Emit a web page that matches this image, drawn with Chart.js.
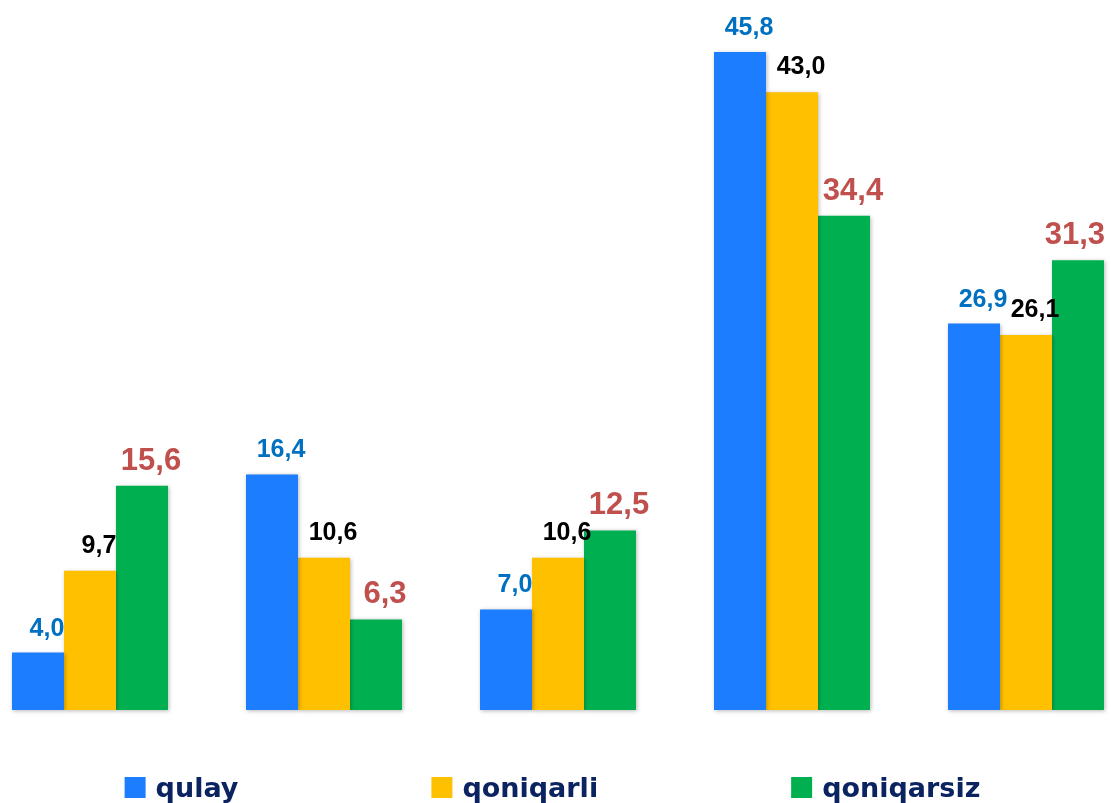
<!DOCTYPE html>
<html>
<head>
<meta charset="utf-8">
<script src="https://cdn.jsdelivr.net/npm/chart.js@4.4.1/dist/chart.umd.min.js"></script>
<style>
  html, body { margin: 0; padding: 0; background: #ffffff; }
  #wrap { position: relative; width: 1111px; height: 803px; }
</style>
</head>
<body>
<div id="wrap"><canvas id="c" width="1111" height="803"></canvas></div>
<script>
const categories = ['1', '2', '3', '4', '5'];
const seriesNames = ['qulay', 'qoniqarli', 'qoniqarsiz'];
const qulay = [4.0, 16.4, 7.0, 45.8, 26.9];
const qoniqarli = [9.7, 10.6, 10.6, 43.0, 26.1];
const qoniqarsiz = [15.6, 6.3, 12.5, 34.4, 31.3];

const barColors = ['#1C7DFF', '#FFC000', '#00B050'];
const labelColors = ['#0070C0', '#000000', '#C0504D'];
const labelFonts = ['bold 25px "Liberation Sans", Arial, sans-serif',
                    'bold 25px "Liberation Sans", Arial, sans-serif',
                    'bold 31px "Liberation Sans", Arial, sans-serif'];
const labelGaps = [17, 18, 16];

const fmt = v => v.toFixed(1).replace('.', ',');

const shadowPlugin = {
  id: 'barShadow',
  beforeDatasetsDraw(chart) {
    const ctx = chart.ctx;
    ctx.save();
    ctx.shadowColor = 'rgba(0,0,0,0.28)';
    ctx.shadowBlur = 4;
    ctx.shadowOffsetX = 1;
    ctx.shadowOffsetY = 1;
  },
  afterDatasetsDraw(chart) {
    chart.ctx.restore();
  }
};

const valueLabels = {
  id: 'valueLabels',
  afterDatasetsDraw(chart) {
    const ctx = chart.ctx;
    ctx.save();
    ctx.textAlign = 'center';
    ctx.textBaseline = 'alphabetic';
    chart.data.datasets.forEach((ds, di) => {
      const meta = chart.getDatasetMeta(di);
      ctx.font = labelFonts[di];
      ctx.fillStyle = labelColors[di];
      meta.data.forEach((bar, i) => {
        const txt = fmt(ds.data[i]);
        const w = ctx.measureText(txt).width;
        let cx = bar.x + 9;
        if (cx + w / 2 > chart.width - 6) cx = chart.width - 6 - w / 2;
        ctx.fillText(txt, cx, bar.y - labelGaps[di]);
      });
    });
    ctx.restore();
  }
};

const customLegend = {
  id: 'customLegend',
  afterDraw(chart) {
    const ctx = chart.ctx;
    ctx.save();
    ctx.font = 'bold 27px "DejaVu Sans", sans-serif';
    const box = 21, gapText = 10, itemGap = 193;
    const items = chart.data.datasets.map(ds => ({
      text: ds.label, color: ds.backgroundColor,
      w: box + gapText + ctx.measureText(ds.label).width
    }));
    const total = items.reduce((s, it) => s + it.w, 0) + itemGap * (items.length - 1);
    let x = (chart.width - total) / 2 - 3;
    const boxTop = 777;
    items.forEach(it => {
      ctx.fillStyle = it.color;
      ctx.fillRect(x, boxTop, box, box);
      ctx.fillStyle = '#0B2461';
      ctx.textBaseline = 'alphabetic';
      ctx.textAlign = 'left';
      ctx.fillText(it.text, x + box + gapText, 797);
      x += it.w + itemGap;
    });
    ctx.restore();
  }
};

new Chart(document.getElementById('c'), {
  type: 'bar',
  data: {
    labels: categories,
    datasets: [
      { label: seriesNames[0], data: qulay, backgroundColor: barColors[0], clip: false },
      { label: seriesNames[1], data: qoniqarli, backgroundColor: barColors[1], clip: false },
      { label: seriesNames[2], data: qoniqarsiz, backgroundColor: barColors[2], clip: false }
    ]
  },
  options: {
    responsive: false,
    animation: false,
    devicePixelRatio: 1,
    layout: { padding: { left: 90, right: 85, top: 6, bottom: 93 } },
    datasets: { bar: { categoryPercentage: 0.6667, barPercentage: 1.0, borderWidth: 0 } },
    scales: {
      x: { type: 'category', offset: false, display: false, grid: { display: false } },
      y: { min: 0, max: 49, display: false, grid: { display: false } }
    },
    plugins: {
      legend: { display: false },
      tooltip: { enabled: false }
    }
  },
  plugins: [shadowPlugin, valueLabels, customLegend]
});
</script>
</body>
</html>
